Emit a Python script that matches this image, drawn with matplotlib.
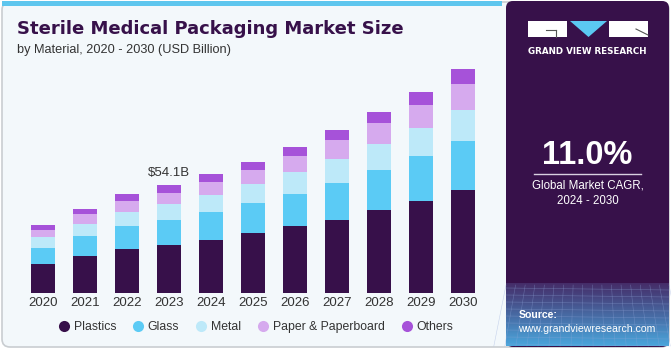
import numpy as np
import matplotlib
matplotlib.use("Agg")
import matplotlib.pyplot as plt
from matplotlib.patches import FancyBboxPatch, Rectangle, Polygon
from matplotlib.lines import Line2D

years = ["2020", "2021", "2022", "2023", "2024", "2025", "2026", "2027", "2028", "2029", "2030"]
plastics = [14.8, 18.8, 22.1, 24.1, 26.8, 30.1, 33.8, 36.8, 41.7, 46.4, 51.5]
glass = [8.0, 9.7, 11.4, 12.4, 13.7, 15.1, 16.1, 18.6, 20.2, 22.4, 25.1]
metal = [5.3, 6.4, 7.4, 8.0, 8.7, 9.4, 11.0, 12.1, 12.9, 13.9, 15.3]
paper = [3.4, 4.7, 5.2, 5.9, 6.5, 7.0, 7.9, 9.2, 10.5, 11.9, 13.2]
others = [2.5, 2.5, 3.4, 3.7, 3.9, 4.2, 4.7, 5.2, 5.5, 6.4, 7.2]
series_names = ["Plastics", "Glass", "Metal", "Paper & Paperboard", "Others"]
colors = ["#37104a", "#5bcbf5", "#bde9f9", "#d6aaee", "#a652d9"]
highlight_label = "$54.1B"
cagr = "11.0%"

W, H = 671, 350
fig = plt.figure(figsize=(W / 100, H / 100), dpi=100)
fig.patch.set_facecolor("white")

bg = fig.add_axes([0, 0, 1, 1])
bg.set_xlim(0, W)
bg.set_ylim(H, 0)
bg.axis("off")
# main card
bg.add_patch(FancyBboxPatch((2, 2), W - 4, H - 5, boxstyle="round,pad=0,rounding_size=8",
                            facecolor="#f3f8fb", edgecolor="#c9cdd1", lw=1.2))
# top stripe
bg.add_patch(Rectangle((2, 1), 500, 5, facecolor="#5ec6ee", edgecolor="none"))
# right panel
bg.add_patch(FancyBboxPatch((506, 1), 163, H - 4, boxstyle="round,pad=0,rounding_size=7",
                            facecolor="#37114a", edgecolor="none"))
# bottom gradient of panel
grad = np.linspace(0, 1, 100)[:, None]
c0 = np.array([0x45, 0x2c, 0x68]) / 255
c1 = np.array([0x4a, 0xa6, 0xdc]) / 255
img = c0[None, None, :] * (1 - grad[:, :, None]) + c1[None, None, :] * grad[:, :, None]
bg.imshow(img, extent=(506, 669, 346, 283), aspect="auto", zorder=2)
# faint grid lines
for yy in np.linspace(288, 344, 9):
    bg.plot([506, 669], [yy, yy + 2], color="#8fa5d8", lw=0.4, alpha=0.45, zorder=3)
for xx in np.linspace(506, 669, 18):
    bg.plot([xx, xx + (xx - 587) * 0.15], [285, 346], color="#8fa5d8", lw=0.4, alpha=0.45, zorder=3)

# logo
bg.add_patch(Rectangle((528, 21), 39, 16, facecolor="white", edgecolor="none", zorder=4))
bg.add_patch(Polygon([(570, 21), (607, 21), (588.5, 37)], closed=True, facecolor="#5bc8f2",
                     edgecolor="none", zorder=4))
bg.add_patch(Rectangle((609, 21), 39, 16, facecolor="white", edgecolor="none", zorder=4))
bg.plot([546, 556], [30, 30], color="#555555", lw=0.8, zorder=5)
bg.plot([556, 556], [30, 37], color="#555555", lw=0.8, zorder=5)
bg.plot([636, 648], [29, 35], color="#555555", lw=0.8, zorder=5)
bg.text(587.5, 51, "GRAND VIEW RESEARCH", color="white", fontsize=6.3, fontweight="bold",
        ha="center", va="center", family="DejaVu Sans", zorder=5)

bg.text(587.5, 155, cagr, color="white", fontsize=23.5, fontweight="bold",
        ha="center", va="center", family="Liberation Sans", zorder=5)
bg.plot([534, 641], [173.5, 173.5], color="#d8d0e0", lw=1, zorder=5)
bg.text(587.5, 185, "Global Market CAGR,", color="white", fontsize=8.3,
        ha="center", va="center", family="Liberation Sans", zorder=5)
bg.text(587.5, 201, "2024 - 2030", color="white", fontsize=8.3,
        ha="center", va="center", family="Liberation Sans", zorder=5)
bg.text(519, 315, "Source:", color="white", fontsize=7.6, fontweight="bold",
        ha="left", va="center", family="Liberation Sans", zorder=5)
bg.text(518, 329, "www.grandviewresearch.com", color="white", fontsize=7.6,
        ha="left", va="center", family="Liberation Sans", zorder=5)

# titles
bg.text(17, 29, "Sterile Medical Packaging Market Size", color="#37114a", fontsize=13.0,
        fontweight="bold", ha="left", va="center", family="DejaVu Sans")
bg.text(17, 50, "by Material, 2020 - 2030 (USD Billion)", color="#333333", fontsize=9.2,
        ha="left", va="center", family="Liberation Sans")

# chart axes
x_left, x_right = 22, 484
y_top, y_base = 60, 293
ax = fig.add_axes([x_left / W, 1 - y_base / H, (x_right - x_left) / W, (y_base - y_top) / H])
ax.set_facecolor("none")
ymax = (y_base - y_top) * 0.5023
x = np.arange(len(years))
bottom = np.zeros(len(years))
data = [plastics, glass, metal, paper, others]
for vals, col, name in zip(data, colors, series_names):
    ax.bar(x, vals, bottom=bottom, width=0.58, color=col, edgecolor="none", label=name)
    bottom = bottom + np.array(vals)
ax.set_xlim(-0.5, len(years) - 0.5)
ax.set_ylim(0, ymax)
for s in ax.spines.values():
    s.set_visible(False)
ax.set_yticks([])
ax.set_xticks(x)
ax.set_xticklabels(years, fontsize=9.5, color="#333333", family="Liberation Sans")
ax.tick_params(axis="x", length=0, pad=3)
idx = years.index("2023")
ax.text(idx, bottom[idx] + 3, highlight_label, ha="center", va="bottom", fontsize=9.5,
        color="#333333", family="Liberation Sans")

handles = [Line2D([0], [0], marker="o", linestyle="none", markersize=8, markerfacecolor=c,
                  markeredgecolor="none") for c in colors]
fig.legend(handles, series_names, loc="center", bbox_to_anchor=(255 / W, 1 - 327 / H), ncol=5,
           frameon=False, handletextpad=0.2, columnspacing=1.2, handlelength=1.2,
           prop={"family": "Liberation Sans", "size": 8.8})
for t in fig.legends[0].get_texts():
    t.set_color("#333333")

fig.savefig("out.png", dpi=100, facecolor=fig.get_facecolor())
